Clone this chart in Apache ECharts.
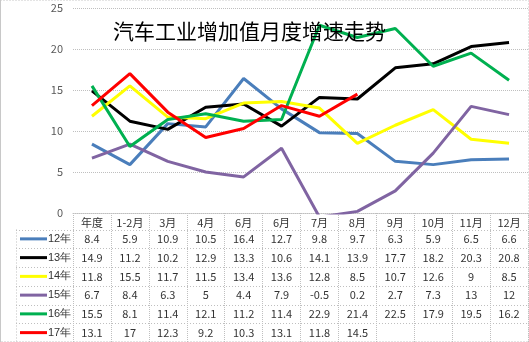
<!DOCTYPE html>
<html>
<head>
<meta charset="utf-8">
<script src="https://cdn.jsdelivr.net/npm/echarts@6/dist/echarts.min.js"></script>
<style>
  html, body { margin: 0; padding: 0; background: #fff; }
  #chart { width: 529px; height: 342px; }
</style>
</head>
<body>
<div id="chart"></div>
<script>
// Monthly growth of automotive industry value added, by year
const categories = ['年度', '1-2月', '3月', '4月', '6月', '6月', '7月', '8月', '9月', '10月', '11月', '12月'];
const seriesNames = ['12年', '13年', '14年', '15年', '16年', '17年'];
const seriesColors = ['#4a7ebb', '#000000', '#ffff00', '#8064a2', '#00b050', '#ff0000'];
const values12 = [8.4, 5.9, 10.9, 10.5, 16.4, 12.7, 9.8, 9.7, 6.3, 5.9, 6.5, 6.6];
const values13 = [14.9, 11.2, 10.2, 12.9, 13.3, 10.6, 14.1, 13.9, 17.7, 18.2, 20.3, 20.8];
const values14 = [11.8, 15.5, 11.7, 11.5, 13.4, 13.6, 12.8, 8.5, 10.7, 12.6, 9, 8.5];
const values15 = [6.7, 8.4, 6.3, 5, 4.4, 7.9, -0.5, 0.2, 2.7, 7.3, 13, 12];
const values16 = [15.5, 8.1, 11.4, 12.1, 11.2, 11.4, 22.9, 21.4, 22.5, 17.9, 19.5, 16.2];
const values17 = [13.1, 17, 12.3, 9.2, 10.3, 13.1, 11.8, 14.5];
const yTicks = [0, 5, 10, 15, 20, 25];
const titleText = '汽车工业增加值月度增速走势';

const allValues = [values12, values13, values14, values15, values16, values17];

const W = 529, H = 342;
const plotLeft = 73, plotRight = 528, plotTop = 8, plotBottom = 213;
const tableTop = 229.5, rowH = 18.75, tableLeft = 16;
const gridColor = '#bfbfbf';
const font = '"Noto Sans CJK SC", "DejaVu Sans", sans-serif';

// One extra bottom x-axis per data-table row, carrying the values as labels
const rowAxes = allValues.map((vals, i) => ({
  type: 'category',
  gridIndex: 0,
  position: 'bottom',
  offset: (tableTop - plotBottom) + rowH * i,
  data: categories.map((_, k) => (k < vals.length ? String(vals[k]) : '')),
  boundaryGap: true,
  axisLine: { show: false },
  axisTick: { show: false },
  splitLine: { show: false },
  axisLabel: { interval: 0, margin: 4, fontSize: 11, color: '#333', fontFamily: font }
}));

// Table rules and row keys
const graphics = [];
for (let i = 0; i <= allValues.length; i++) {
  const y = Math.round(tableTop + rowH * i) + 0.5;
  graphics.push({
    type: 'line', silent: true,
    shape: { x1: tableLeft, y1: y, x2: plotRight, y2: y },
    style: { stroke: gridColor, lineWidth: 1, lineDash: [1, 2] }
  });
}
graphics.push({
  type: 'line', silent: true,
  shape: { x1: tableLeft + 0.5, y1: tableTop, x2: tableLeft + 0.5, y2: H },
  style: { stroke: gridColor, lineWidth: 1, lineDash: [1, 2] }
});
seriesNames.forEach((name, i) => {
  const cy = tableTop + rowH * i + rowH / 2;
  graphics.push({
    type: 'line', silent: true,
    shape: { x1: 20, y1: cy, x2: 47, y2: cy },
    style: { stroke: seriesColors[i], lineWidth: 3 }
  });
  graphics.push({
    type: 'text', silent: true, x: 48, y: cy,
    style: { text: name, fontSize: 11, fill: '#333', font: '11px ' + font, verticalAlign: 'middle' }
  });
});
// Outer frame
graphics.push({
  type: 'rect', silent: true,
  shape: { x: 0.5, y: 0.5, width: W - 1, height: H - 1 },
  style: { fill: 'none', stroke: '#c8c8c8', lineWidth: 1, lineDash: [1, 2] }
});
graphics.push({
  type: 'line', silent: true,
  shape: { x1: 0.5, y1: 0, x2: 0.5, y2: H },
  style: { stroke: '#c8c8c8', lineWidth: 1 }
});

const chart = echarts.init(document.getElementById('chart'), null, { renderer: 'canvas' });
chart.setOption({
  animation: false,
  backgroundColor: '#fff',
  textStyle: { fontFamily: font },
  title: {
    text: titleText,
    left: 113, top: 21, padding: 0,
    textStyle: { fontSize: 21, fontWeight: 'normal', color: '#000', fontFamily: font }
  },
  grid: { left: plotLeft, right: W - plotRight, top: plotTop, bottom: H - plotBottom, containLabel: false },
  xAxis: [{
    type: 'category',
    data: categories,
    boundaryGap: true,
    axisLine: { show: true, lineStyle: { color: gridColor, type: 'dotted' } },
    axisTick: { show: true, inside: false, length: H - plotBottom, lineStyle: { color: gridColor, type: 'dotted' } },
    axisLabel: { interval: 0, margin: 4, fontSize: 11, color: '#333', fontFamily: font }
  }].concat(rowAxes),
  yAxis: {
    type: 'value',
    min: yTicks[0], max: yTicks[yTicks.length - 1], interval: yTicks[1] - yTicks[0],
    axisLine: { show: false },
    axisTick: { show: false },
    splitLine: { show: true, lineStyle: { color: gridColor, type: 'dotted' } },
    axisLabel: { margin: 10, fontSize: 11, color: '#595959', fontFamily: font }
  },
  series: seriesNames.map((name, i) => ({
    name,
    type: 'line',
    xAxisIndex: 0,
    yAxisIndex: 0,
    data: allValues[i],
    symbol: 'none',
    clip: true,
    lineStyle: { color: seriesColors[i], width: 3 },
    itemStyle: { color: seriesColors[i] }
  })),
  graphic: graphics
});
</script>
</body>
</html>
